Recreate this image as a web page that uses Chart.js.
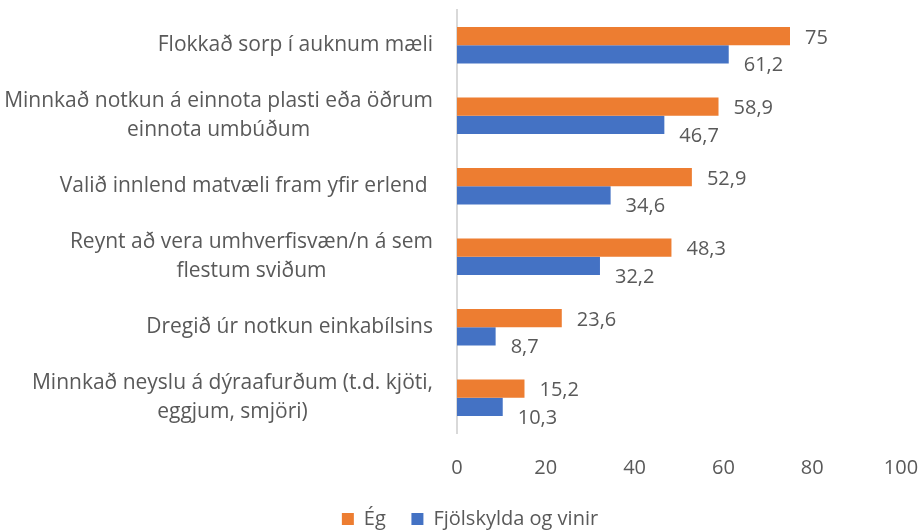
<!DOCTYPE html>
<html>
<head>
<meta charset="utf-8">
<script src="https://cdn.jsdelivr.net/npm/chart.js@4"></script>
<style>
  body { margin: 0; background: #fff; }
  #wrap { width: 920px; height: 531px; }
</style>
</head>
<body>
<div id="wrap"><canvas id="chart" width="920" height="531"></canvas></div>
<script>
var categories = [
  'Flokkað sorp í auknum mæli',
  ['Minnkað notkun á einnota plasti eða öðrum', 'einnota umbúðum'],
  'Valið innlend matvæli fram yfir erlend ',
  ['Reynt að vera umhverfisvæn/n á sem', 'flestum sviðum'],
  'Dregið úr notkun einkabílsins',
  ['Minnkað neyslu á dýraafurðum (t.d. kjöti,', 'eggjum, smjöri)']
];
var egValues = [75, 58.9, 52.9, 48.3, 23.6, 15.2];
var familyValues = [61.2, 46.7, 34.6, 32.2, 8.7, 10.3];
var seriesNames = ['Ég', 'Fjölskylda og vinir'];
var xTicks = [0, 20, 40, 60, 80, 100];

var FONT = "'Open Sans', sans-serif";
var GREY = '#595959';

// category labels: block right aligned, lines centred inside the block
var catLabels = {
  id: 'catLabels',
  afterDraw: function(chart) {
    var ctx = chart.ctx, y = chart.scales.y;
    ctx.save();
    ctx.font = '21px ' + FONT;
    ctx.fillStyle = GREY;
    ctx.textAlign = 'center';
    ctx.textBaseline = 'middle';
    var right = chart.chartArea.left - 24;
    chart.data.labels.forEach(function(lab, i) {
      var lines = Array.isArray(lab) ? lab : [lab];
      var w = Math.max.apply(null, lines.map(function(l) { return ctx.measureText(l).width; }));
      var cy = y.getPixelForTick(i);
      var lh = 28.5;
      lines.forEach(function(l, j) {
        ctx.fillText(l, right - w / 2, cy + (j - (lines.length - 1) / 2) * lh);
      });
    });
    ctx.restore();
  }
};

var valueLabels = {
  id: 'valueLabels',
  afterDatasetsDraw: function(chart) {
    var ctx = chart.ctx;
    ctx.save();
    ctx.font = '20px ' + FONT;
    ctx.fillStyle = GREY;
    ctx.textAlign = 'left';
    ctx.textBaseline = 'middle';
    chart.data.datasets.forEach(function(ds, di) {
      chart.getDatasetMeta(di).data.forEach(function(bar, i) {
        var txt = String(ds.data[i]).replace('.', ',');
        ctx.fillText(txt, bar.x + 15, bar.y + (di === 0 ? 2 : 11));
      });
    });
    ctx.restore();
  }
};

new Chart(document.getElementById('chart'), {
  type: 'bar',
  data: {
    labels: categories,
    datasets: [{
      label: seriesNames[0],
      data: egValues,
      backgroundColor: '#ED7D31'
    }, {
      label: seriesNames[1],
      data: familyValues,
      backgroundColor: '#4472C4'
    }]
  },
  options: {
    indexAxis: 'y',
    responsive: false,
    animation: false,
    layout: { padding: { top: 10, right: 19, bottom: 0, left: 39 } },
    datasets: { bar: { categoryPercentage: 0.52, barPercentage: 1 } },
    scales: {
      x: {
        min: 0, max: 100,
        afterBuildTicks: function(s) { s.ticks = xTicks.map(function(v) { return { value: v }; }); },
        grid: { display: false },
        border: { display: false },
        ticks: { color: GREY, font: { family: FONT, size: 20 }, padding: 15 },
        afterFit: function(s) { s.height = 66; s.paddingRight = 0; }
      },
      y: {
        grid: { display: false },
        border: { display: true, color: '#D9D9D9', width: 2 },
        ticks: { display: false },
        afterFit: function(s) { s.width = 418; }
      }
    },
    plugins: {
      legend: {
        position: 'bottom',
        maxHeight: 32,
        labels: {
          color: GREY,
          font: { family: FONT, size: 20 },
          boxWidth: 12, boxHeight: 12,
          padding: 10,
          generateLabels: function(chart) {
            var items = Chart.defaults.plugins.legend.labels.generateLabels(chart);
            items[0].text = items[0].text + '   ';
            return items;
          }
        }
      },
      tooltip: { enabled: false }
    }
  },
  plugins: [catLabels, valueLabels]
});
</script>
</body>
</html>
